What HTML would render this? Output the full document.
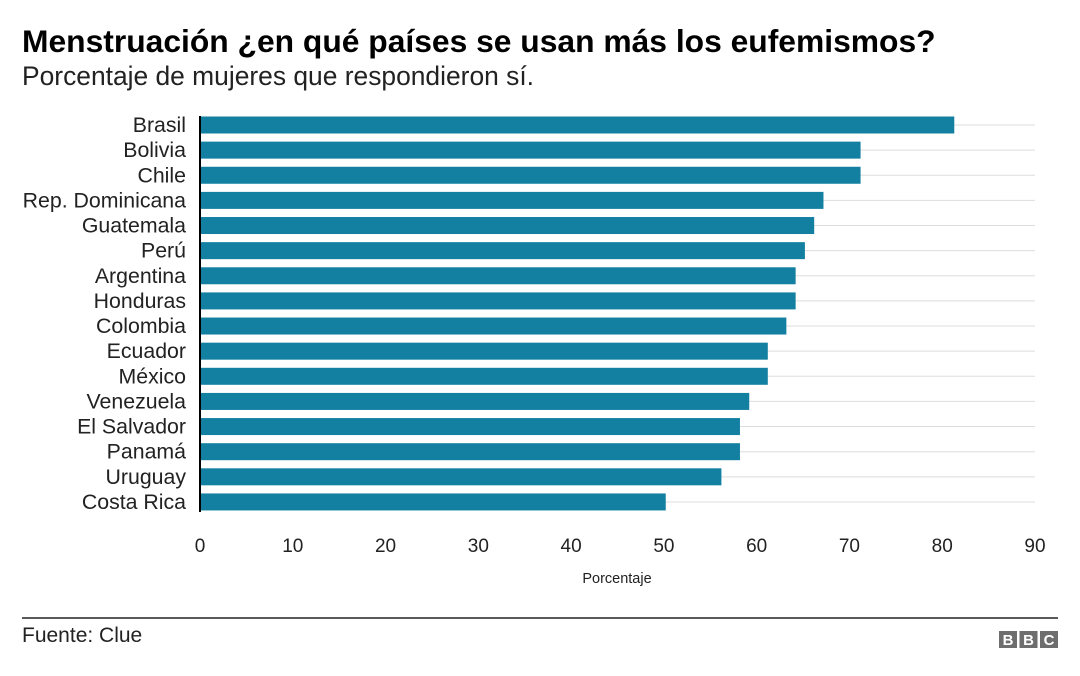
<!DOCTYPE html>
<html><head><meta charset="utf-8"><style>
body{margin:0;background:#fff;font-family:"Liberation Sans",sans-serif;}
#wrap{position:relative;width:1080px;height:676px;overflow:hidden;}
.t{position:absolute;white-space:nowrap;color:#222;}
</style></head><body>
<div id="wrap">
<div class="t" style="left:22px;top:23px;font-size:31.8px;font-weight:bold;color:#000;">Menstruación ¿en qué países se usan más los eufemismos?</div>
<div class="t" style="left:22px;top:61px;font-size:26.4px;">Porcentaje de mujeres que respondieron sí.</div>
<svg id="chart" width="1080" height="676" style="position:absolute;left:0;top:0;"></svg>
<div class="t" style="left:22px;top:624px;font-size:21px;">Fuente: Clue</div>
</div>
<script>
const categories=["Brasil","Bolivia","Chile","Rep. Dominicana","Guatemala","Perú","Argentina","Honduras","Colombia","Ecuador","México","Venezuela","El Salvador","Panamá","Uruguay","Costa Rica"];
const values=[81.3,71.2,71.2,67.2,66.2,65.2,64.2,64.2,63.2,61.2,61.2,59.2,58.2,58.2,56.2,50.2];
const ticks=[0,10,20,30,40,50,60,70,80,90];
const svg=document.getElementById('chart');
const NS='http://www.w3.org/2000/svg';
const x0=200,x1=1035,xmax=90;
const x=v=>x0+(v/xmax)*(x1-x0);
const yc=i=>125+i*25.13;
function mk(t,a){const e=document.createElementNS(NS,t);for(const k in a)e.setAttribute(k,a[k]);svg.appendChild(e);return e;}
categories.forEach((c,i)=>{
  const g=mk('line',{x1:x0,x2:x1,y1:yc(i),y2:yc(i),stroke:'#dddddd','stroke-width':1});
  
  
});
categories.forEach((c,i)=>{
  const r=mk('rect',{x:x0,y:yc(i)-8.5,width:x(values[i])-x0,height:17,fill:'#1380a1'});
  
  
  const t=mk('text',{x:186,y:yc(i)+7,'text-anchor':'end','font-size':21.3,fill:'#222','font-family':'Liberation Sans, sans-serif'});
  t.textContent=c;
  
  
});
const ax=mk('line',{x1:x0,x2:x0,y1:116,y2:512,stroke:'#000','stroke-width':2});


ticks.forEach(v=>{
  const t=mk('text',{x:x(v),y:552,'text-anchor':'middle','font-size':19,fill:'#222','font-family':'Liberation Sans, sans-serif'});
  t.textContent=v;
  
  
});
const xt=mk('text',{x:617,y:583,'text-anchor':'middle','font-size':14.5,fill:'#222','font-family':'Liberation Sans, sans-serif'});
xt.textContent='Porcentaje';


const fl=mk('line',{x1:22,x2:1058,y1:618,y2:618,stroke:'#222','stroke-width':1.5});


['B','B','C'].forEach((l,i)=>{
  const r=mk('rect',{x:999+i*20.5,y:631,width:18,height:17,fill:'#6e6e6e'});
  
  
  const t=mk('text',{x:1008+i*20.5,y:645,'text-anchor':'middle','font-size':15,'font-weight':'bold',fill:'#fff','font-family':'Liberation Sans, sans-serif'});
  t.textContent=l;
  
  
});
</script>
</body></html>
